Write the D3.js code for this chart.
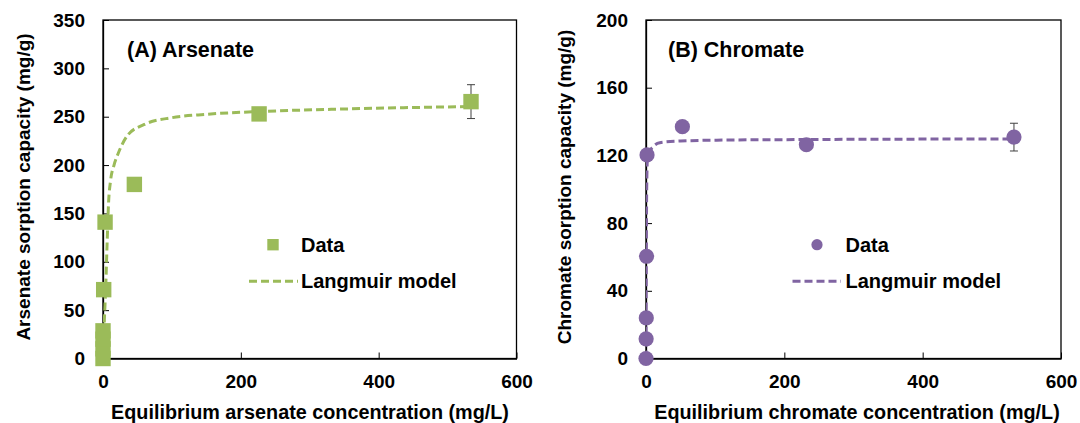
<!DOCTYPE html>
<html>
<head>
<meta charset="utf-8">
<script src="https://cdn.jsdelivr.net/npm/d3@7"></script>
<style>
  body { margin: 0; background: #fff; }
  text { font-family: "Liberation Sans", Arial, sans-serif; font-weight: bold; fill: #000; }
</style>
</head>
<body>
<div id="chart"></div>
<script>
var w = 1080,
  h = 423;

// (A) arsenate: measured points
var arsC = [0, 0, 0, 0, 1, 3, 45.5, 226.5, 534];
var arsQ = [0, 10, 20, 28.6, 71.2, 141, 180, 252.9, 265.6];
var arsErr = [0, 0, 0, 0, 0, 0, 0, 0, 17.5];
// (A) Langmuir curve
var arsFitC = [0, 2, 4, 6, 8, 11, 16, 22, 36, 60, 100, 150, 226, 350, 534];
var arsFitQ = [0, 40, 75, 120, 160, 184, 200, 212, 231, 242, 249, 252.5, 255.3, 258, 260.5];

// (B) chromate: measured points
var chrC = [0, 0.2, 0.4, 0.8, 1.5, 52.6, 231.9, 532];
var chrQ = [0, 11.6, 24, 60.4, 120.3, 137, 126.3, 130.8];
var chrErr = [0, 0, 0, 0, 0, 0, 0, 8.2];
// (B) Langmuir curve
var chrFitC = [0, 0.5, 1, 2, 5, 10, 20, 50, 100, 200, 300, 532];
var chrFitQ = [0, 60, 100, 117, 122, 125, 127.5, 128.5, 129, 129.3, 129.5, 129.7];

var xTicks = [0, 200, 400, 600];
var arsTicks = [0, 50, 100, 150, 200, 250, 300, 350];
var chrTicks = [0, 40, 80, 120, 160, 200];

var GREEN = "#9bbb59",
  PURPLE = "#8064a2";

var svg = d3.select("#chart").append("svg").attr("width", w).attr("height", h);

function drawPanel(opt) {
  var x = d3.scaleLinear().domain([0, 600]).range([opt.left, opt.right]);
  var y = d3.scaleLinear().domain([0, opt.ymax]).range([358.5, 20]);
  var g = svg.append("g");

  // frame
  g.append("rect").attr("x", opt.left).attr("y", 20)
    .attr("width", opt.right - opt.left).attr("height", 338.5)
    .attr("fill", "none").attr("stroke", "#000").attr("stroke-width", 1.3);

  var ax = g.append("g").attr("transform", "translate(0,358.5)")
    .call(d3.axisBottom(x).tickValues(xTicks).tickSize(-6).tickSizeOuter(0).tickPadding(16));
  var ay = g.append("g").attr("transform", "translate(" + opt.left + ",0)")
    .call(d3.axisLeft(y).tickValues(opt.ticks).tickSize(-6).tickSizeOuter(0).tickPadding(18));
  [ax, ay].forEach(function (a) {
    a.select(".domain").attr("stroke", "#000").attr("stroke-width", 1.3);
    a.selectAll(".tick line").attr("stroke", "#000").attr("stroke-width", 1);
    a.selectAll("text").style("font-size", "19px").attr("fill", "#000");
  });

  var clipId = "clip" + opt.id;
  svg.append("clipPath").attr("id", clipId).append("rect")
    .attr("x", opt.left).attr("y", 20).attr("width", opt.right - opt.left).attr("height", 338.5);

  var line = d3.line().x(function (d) { return x(d[0]); }).y(function (d) { return y(d[1]); })
    .curve(d3.curveMonotoneX);
  g.append("path").datum(d3.zip(opt.fitC, opt.fitQ))
    .attr("clip-path", "url(#" + clipId + ")")
    .attr("d", line).attr("fill", "none").attr("stroke", opt.color)
    .attr("stroke-width", 3).attr("stroke-dasharray", "8,4");

  var pts = d3.zip(opt.c, opt.q, opt.err);
  // error bars
  var eb = g.append("g").selectAll("g").data(pts.filter(function (d) { return d[2] > 0; }))
    .enter().append("g").attr("stroke", "#404040").attr("stroke-width", 1);
  eb.append("line").attr("x1", function (d) { return x(d[0]); }).attr("x2", function (d) { return x(d[0]); })
    .attr("y1", function (d) { return y(d[1] - d[2]); }).attr("y2", function (d) { return y(d[1] + d[2]); });
  eb.append("line").attr("x1", function (d) { return x(d[0]) - 4; }).attr("x2", function (d) { return x(d[0]) + 4; })
    .attr("y1", function (d) { return y(d[1] + d[2]); }).attr("y2", function (d) { return y(d[1] + d[2]); });
  eb.append("line").attr("x1", function (d) { return x(d[0]) - 4; }).attr("x2", function (d) { return x(d[0]) + 4; })
    .attr("y1", function (d) { return y(d[1] - d[2]); }).attr("y2", function (d) { return y(d[1] - d[2]); });

  // markers
  if (opt.shape == "square") {
    g.append("g").selectAll("rect").data(pts).enter().append("rect")
      .attr("x", function (d) { return x(d[0]) - 7.7; }).attr("y", function (d) { return y(d[1]) - 7.7; })
      .attr("width", 15.4).attr("height", 15.4).attr("fill", opt.color);
  } else {
    g.append("g").selectAll("circle").data(pts).enter().append("circle")
      .attr("cx", function (d) { return x(d[0]); }).attr("cy", function (d) { return y(d[1]); })
      .attr("r", 7.6).attr("fill", opt.color);
  }

  // panel title
  g.append("text").attr("x", opt.titleX).attr("y", 49).attr("dy", "0.35em")
    .style("font-size", "21.5px").text(opt.title);

  // legend
  if (opt.shape == "square") {
    g.append("rect").attr("x", opt.legX - 5.7).attr("y", 244.7 - 5.7).attr("width", 11.4).attr("height", 11.4)
      .attr("fill", opt.color);
  } else {
    g.append("circle").attr("cx", opt.legX).attr("cy", 244.7).attr("r", 5.6).attr("fill", opt.color);
  }
  g.append("text").attr("x", opt.legTextX).attr("y", 244.7).attr("dy", "0.35em")
    .style("font-size", "20px").text("Data");
  g.append("line").attr("x1", opt.legLine[0]).attr("x2", opt.legLine[1]).attr("y1", 281.3).attr("y2", 281.3)
    .attr("stroke", opt.color).attr("stroke-width", 3).attr("stroke-dasharray", "8,4");
  g.append("text").attr("x", opt.legTextX).attr("y", 281.3).attr("dy", "0.35em")
    .style("font-size", "20px").text("Langmuir model");

  // axis titles
  g.append("text").attr("x", opt.xTitleX).attr("y", 411.7).attr("dy", "0.35em")
    .attr("text-anchor", "middle").style("font-size", "19.8px").text(opt.xTitle);
  g.append("text").attr("transform", "translate(" + opt.yTitleX + ",187) rotate(-90)")
    .attr("dy", "0.35em").attr("text-anchor", "middle").style("font-size", "19px").text(opt.yTitle);
}

drawPanel({
  id: "A", left: 103, right: 516.5, ymax: 350, ticks: arsTicks,
  c: arsC, q: arsQ, err: arsErr, fitC: arsFitC, fitQ: arsFitQ,
  color: GREEN, shape: "square",
  title: "(A) Arsenate", titleX: 127,
  legX: 273, legTextX: 301, legLine: [249, 298],
  xTitle: "Equilibrium arsenate concentration (mg/L)", xTitleX: 310,
  yTitle: "Arsenate sorption capacity (mg/g)", yTitleX: 23
});

drawPanel({
  id: "B", left: 646, right: 1061, ymax: 200, ticks: chrTicks,
  c: chrC, q: chrQ, err: chrErr, fitC: chrFitC, fitQ: chrFitQ,
  color: PURPLE, shape: "circle",
  title: "(B) Chromate", titleX: 668,
  legX: 817, legTextX: 845.5, legLine: [792.5, 841],
  xTitle: "Equilibrium chromate concentration (mg/L)", xTitleX: 857,
  yTitle: "Chromate sorption capacity (mg/g)", yTitleX: 564
});
</script>
</body>
</html>
